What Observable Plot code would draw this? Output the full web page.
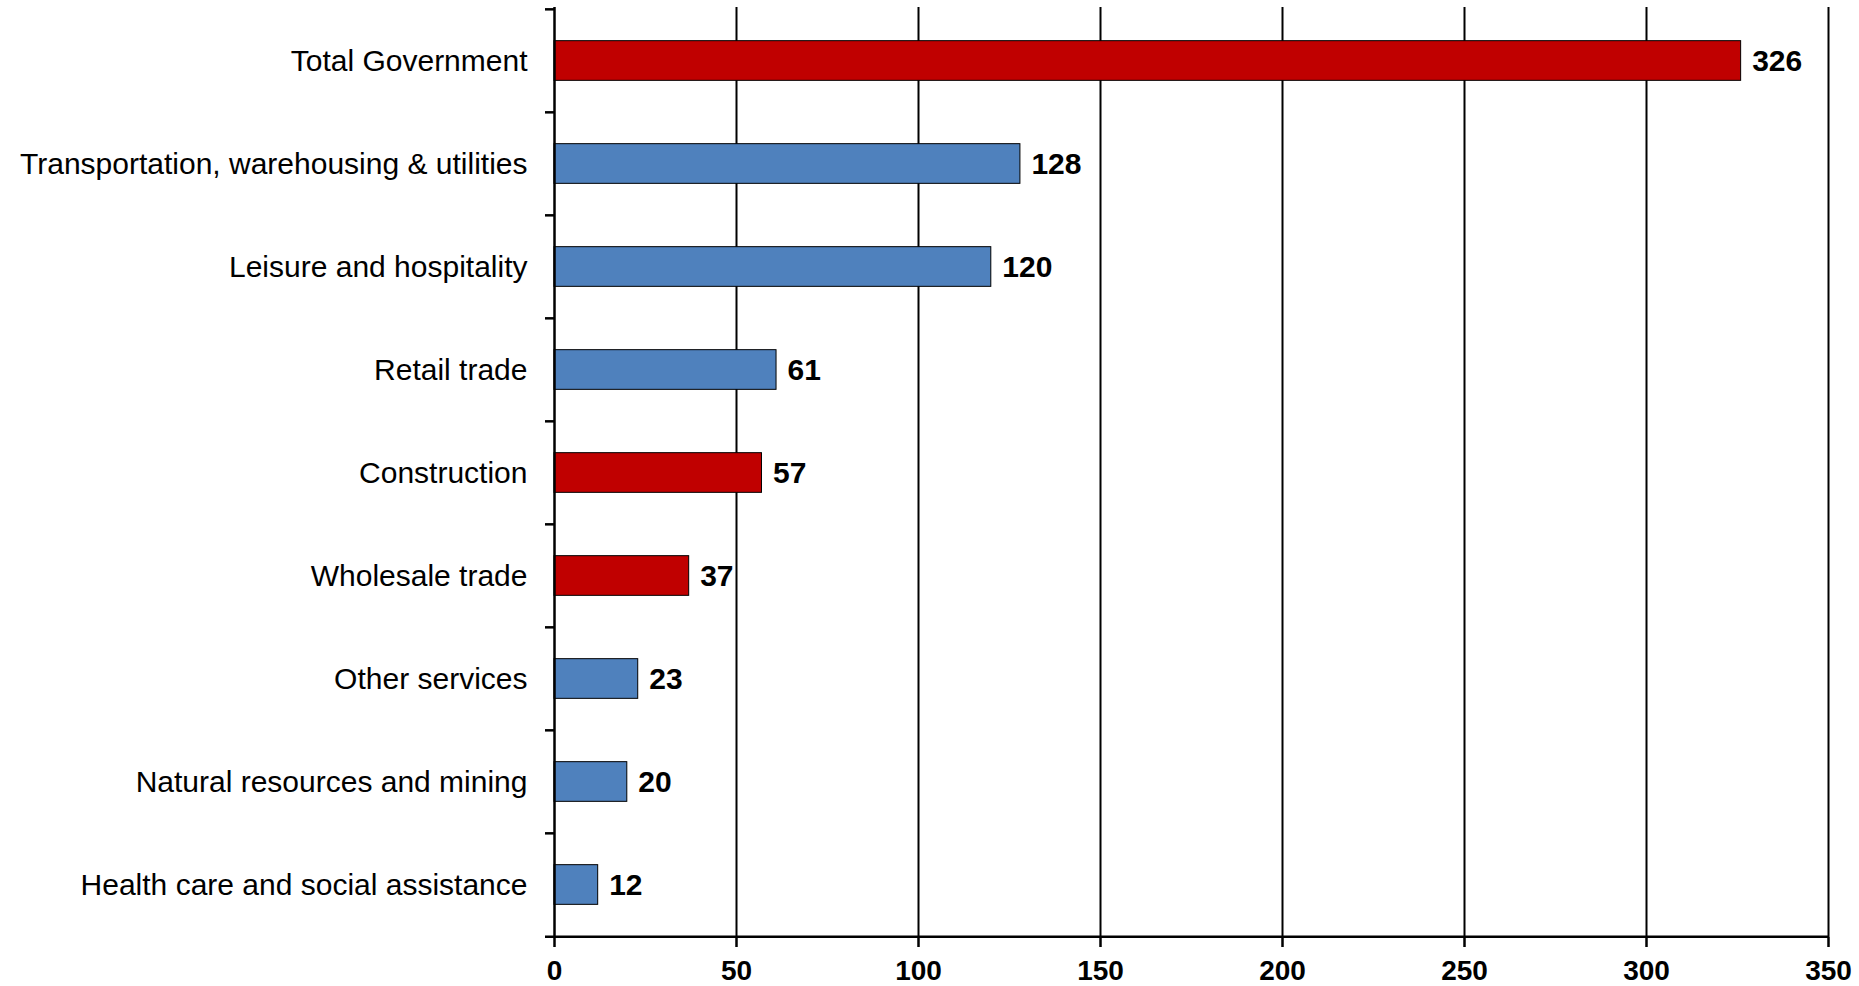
<!DOCTYPE html>
<html>
<head>
<meta charset="utf-8">
<script src="https://cdn.jsdelivr.net/npm/d3@7"></script>
<script src="https://cdn.jsdelivr.net/npm/@observablehq/plot@0.6"></script>
<style>
  html, body { margin: 0; padding: 0; background: #fff; }
  #chart svg { display: block; }
</style>
</head>
<body>
<div id="chart"></div>
<script>
const categories = [
  "Total Government",
  "Transportation, warehousing & utilities",
  "Leisure and hospitality",
  "Retail trade",
  "Construction",
  "Wholesale trade",
  "Other services",
  "Natural resources and mining",
  "Health care and social assistance"
];
const values = [326, 128, 120, 61, 57, 37, 23, 20, 12];
const barColors = ["#C00000", "#4F81BD", "#4F81BD", "#4F81BD", "#C00000", "#C00000", "#4F81BD", "#4F81BD", "#4F81BD"];
const xTicks = [0, 50, 100, 150, 200, 250, 300, 350];

const data = categories.map((c, i) => ({category: c, value: values[i], color: barColors[i]}));

const W = 1859, H = 986;
const mt = 7, mb = 49, ml = 554, mr = 31;
const step = (H - mt - mb) / categories.length;
const barH = 40;
const inset = (step - barH) / 2;
const tickLen = 9 / ((W - ml - mr) / 350);

const chart = Plot.plot({
  width: W,
  height: H,
  marginTop: mt,
  marginBottom: mb,
  marginLeft: ml,
  marginRight: mr,
  style: {fontFamily: "'Liberation Sans', Arial, sans-serif", color: "#000", background: "#fff"},
  x: {domain: [0, 350], ticks: xTicks, label: null},
  y: {domain: categories, padding: 0, label: null},
  marks: [
    Plot.ruleX(xTicks.slice(1), {stroke: "#000", strokeWidth: 2}),
    Plot.barX(data, {x: "value", y: "category", fill: "color", stroke: "#000", strokeWidth: 1, insetTop: inset, insetBottom: inset}),
    Plot.ruleX([0], {stroke: "#000", strokeWidth: 2.5}),
    Plot.ruleY(categories, {y: d => d, x1: -tickLen, x2: 0, dy: -step / 2, stroke: "#000", strokeWidth: 2.5}),
    Plot.ruleY([categories[categories.length - 1]], {y: d => d, x1: -tickLen, x2: 350, dy: step / 2, stroke: "#000", strokeWidth: 2.5}),
    Plot.text(data, {x: "value", y: "category", text: d => String(d.value), textAnchor: "start", dx: 11, fontWeight: "bold", fontSize: 30, fill: "#000"}),
    Plot.axisY({tickSize: 0, tickPadding: 27, fontSize: 30, fill: "#000", label: null}),
    Plot.axisX({ticks: xTicks, tickSize: 10, tickPadding: 13, fontSize: 28, fontWeight: "bold", stroke: "#000", strokeWidth: 2.5, fill: "#000", label: null})
  ]
});
document.getElementById("chart").appendChild(chart);
</script>
</body>
</html>
